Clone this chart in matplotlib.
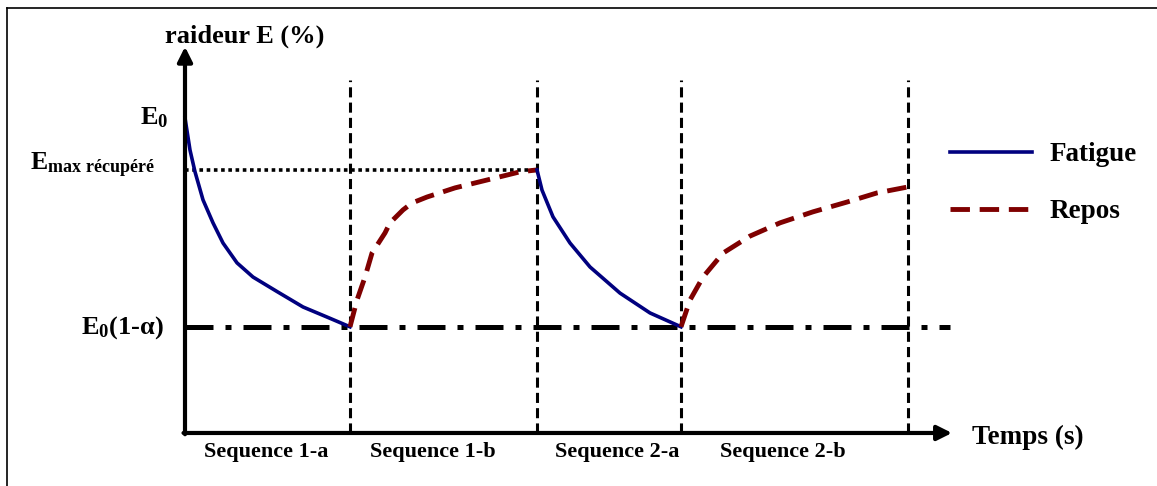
import numpy as np
import matplotlib
matplotlib.use('Agg')
import matplotlib.pyplot as plt

plt.rcParams['font.family'] = ['Liberation Serif', 'DejaVu Serif']
plt.rcParams['font.weight'] = 'bold'
plt.rcParams['mathtext.fontset'] = 'custom'
plt.rcParams['mathtext.rm'] = 'Liberation Serif:bold'
plt.rcParams['mathtext.bf'] = 'Liberation Serif:bold'
plt.rcParams['mathtext.it'] = 'Liberation Serif:bold'

# niveaux de raideur (%)
e0 = 100.0
e_max = 83.5
e_low = 33.7

# limites des sequences (s)
bornes = [16.5, 35.2, 49.6, 72.3]
seq_labels = ['Sequence 1-a', 'Sequence 1-b', 'Sequence 2-a', 'Sequence 2-b']
seq_centres = [8.1, 24.8, 43.2, 59.8]

# courbes
t_fat1 = [0, 0.5, 1.0, 1.8, 2.8, 3.8, 5.2, 6.8, 9.2, 11.8, 14.2, 16.5]
e_fat1 = [100, 89.8, 82.9, 74.0, 66.7, 60.3, 54.0, 49.5, 44.9, 40.0, 36.8, 33.7]
t_rep1 = [16.5, 17.2, 18.0, 18.7, 20.0, 20.5, 21.8, 22.7, 24.2, 27.0, 30.2, 33.5, 35.2]
e_rep1 = [33.7, 42.2, 49.5, 57.1, 63.5, 66.7, 70.8, 73.0, 74.9, 77.8, 80.3, 82.9, 83.5]
t_fat2 = [35.2, 35.7, 36.8, 38.5, 40.5, 43.5, 46.5, 49.6]
e_fat2 = [83.5, 77.1, 68.6, 60.3, 52.7, 44.4, 38.1, 33.7]
t_rep2 = [49.6, 50.5, 51.8, 53.8, 56.5, 59.5, 62.8, 66.2, 69.2, 72.3]
e_rep2 = [33.7, 42.2, 49.5, 57.1, 62.5, 66.7, 70.2, 73.3, 76.2, 78.1]

bleu = '#00007f'
rouge = '#7f0000'

fig = plt.figure(figsize=(11.57, 4.86), dpi=100)
ax = fig.add_axes([7 / 1157, 0, 1150 / 1157, 478 / 486])
ax.set_xlim(-17.8, 97.2)
ax.set_ylim(-16.83, 134.9)
ax.set_xticks([])
ax.set_yticks([])
for s in ['right', 'bottom']:
    ax.spines[s].set_visible(False)
for s in ['left', 'top']:
    ax.spines[s].set_linewidth(1.2)

# axes avec fleches
ax.annotate('', xy=(0, 122.6), xytext=(0, -0.4),
            arrowprops=dict(arrowstyle='-|>', lw=3, color='black', mutation_scale=22,
                            shrinkA=0, shrinkB=0))
ax.annotate('', xy=(76.7, 0), xytext=(-0.15, 0),
            arrowprops=dict(arrowstyle='-|>', lw=3, color='black', mutation_scale=22,
                            shrinkA=0, shrinkB=0))

# lignes de reference
ax.vlines(bornes, 0, 112.2, colors='black', lw=2.2, linestyles=[(0, (3.3, 1.7))])
ax.plot([0, bornes[1]], [e_max, e_max], color='black', lw=2.6, ls=(0, (1, 1)))
ax.plot([0, 76.5], [e_low, e_low], color='black', lw=3.6, ls=(0, (5.6, 2.4, 1.2, 2.4)))

# courbes
ax.plot(t_fat1, e_fat1, color=bleu, lw=2.6, label='Fatigue')
ax.plot(t_rep1, e_rep1, color=rouge, lw=3.5, ls=(0, (4, 2)), label='Repos')
ax.plot(t_fat2, e_fat2, color=bleu, lw=2.6)
ax.plot(t_rep2, e_rep2, color=rouge, lw=3.5, ls=(0, (4, 2)))

# textes
ax.text(6.0, 126.0, 'raideur E (%)', fontsize=19, ha='center', va='center')
ax.text(78.7, -1.3, 'Temps (s)', fontsize=19.5, ha='left', va='center')
ax.text(-1.7, 98.0, r'E$_{\mathbf{0}}$', fontsize=19, ha='right', va='baseline')
ax.text(-3.0, 83.5, r'E$_{\mathbf{max\ récupéré}}$', fontsize=18.5, ha='right', va='baseline')
ax.text(-2.1, 31.5, r'E$_{\mathbf{0}}$(1-α)', fontsize=19, ha='right', va='baseline')
for lab, c in zip(seq_labels, seq_centres):
    ax.text(c, -7.6, lab, fontsize=16, ha='center', va='baseline')

ax.legend(loc='upper left', bbox_to_anchor=(949 / 1157, 1 - 134 / 478),
          frameon=False, fontsize=19.5, handlelength=3.0, handletextpad=0.67,
          labelspacing=1.2, borderpad=0, borderaxespad=0)

fig.savefig('out.png', dpi=100)
